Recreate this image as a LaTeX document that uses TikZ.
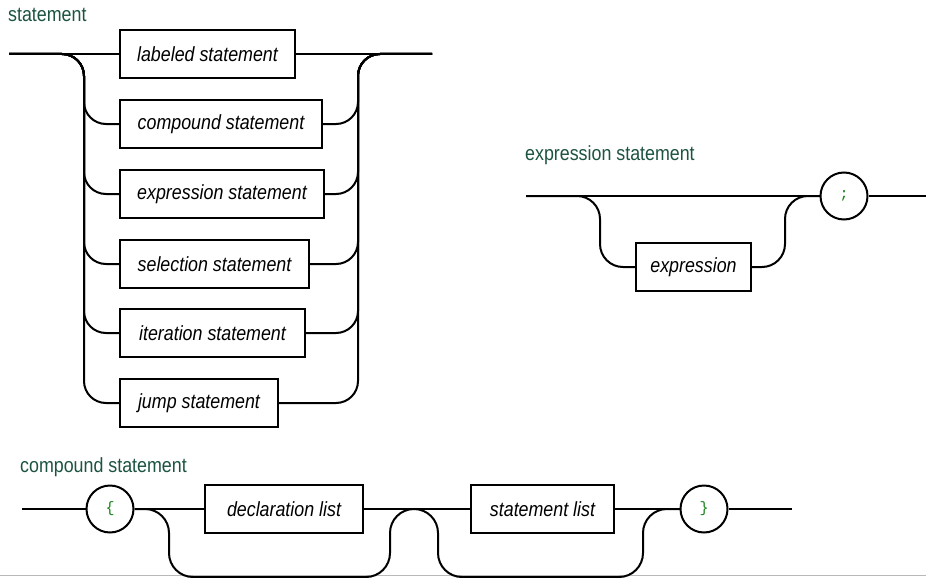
\documentclass[tikz,border=0pt]{standalone}
\usepackage{fontspec}
\setmainfont{Liberation Sans}[FakeStretch=0.87]
\newfontfamily\termfont{Liberation Mono}
\definecolor{titlegreen}{RGB}{28,84,64}
\definecolor{termgreen}{RGB}{20,130,20}
\tikzset{
  rail/.style={line width=2pt, line join=round},
  ntbox/.style={draw, line width=2pt, rectangle, minimum height=48pt, anchor=west, inner sep=0pt,
    font=\fontsize{20.5}{24}\selectfont\itshape},
  term/.style={draw, line width=2pt, circle, minimum size=47pt, inner sep=0pt,
    font=\termfont\fontsize{15}{16}\selectfont, text=termgreen},
  title/.style={anchor=base west, inner sep=0pt, text=titlegreen, font=\fontsize{20.5}{22}\selectfont}
}
\begin{document}
\begin{tikzpicture}[x=1pt, y=-1pt]
\useasboundingbox (0,0) rectangle (926,578);
\fill[white] (0,0) rectangle (926,578);

% ---------- statement ----------
\node[title] (t1) at (8,22) {statement};
\node[ntbox, minimum width=175pt] (b1) at (119,54) {labeled statement};
\node[ntbox, minimum width=202pt] (b2) at (119,124) {compound statement};
\node[ntbox, minimum width=204pt] (b3) at (119,194) {expression statement};
\node[ntbox, minimum width=189pt] (b4) at (119,264) {selection statement};
\node[ntbox, minimum width=185pt] (b5) at (119,333) {iteration statement};
\node[ntbox, minimum width=158pt] (b6) at (119,403) {jump statement};
\coordinate (in1) at (9,54);
\coordinate (out1) at (432,54);
\coordinate (L1) at (84,54);
\coordinate (R1) at (358,54);
\draw[rail] (in1) -- (b1.west);
\draw[rail] (b1.east) -- (out1);
\foreach \k in {2,...,6}{
  \draw[rail, rounded corners=22pt] (in1) -- (L1) |- (b\k.west);
  \draw[rail, rounded corners=22pt] (b\k.east) -| (R1) -- (out1);
}

% ---------- expression statement ----------
\node[title] (t2) at (525,160) {expression statement};
\node[ntbox, minimum width=115pt] (ex) at (635,267) {expression};
\node[term] (semi) at (844,196) {;};
\coordinate (in2) at (526,196);
\coordinate (out2) at (930,196);
\coordinate (L2) at (600,196);
\coordinate (R2) at (785,196);
\draw[rail] (in2) -- (semi.west);
\draw[rail] (semi.east) -- (out2);
\draw[rail, rounded corners=23pt] (in2) -- (L2) |- (ex.west);
\draw[rail, rounded corners=23pt] (ex.east) -| (R2) -- (semi.west);

% ---------- compound statement ----------
\node[title] (t3) at (20,472) {compound statement};
\node[term] (lb) at (110,509) {\{};
\node[ntbox, minimum width=158pt] (decl) at (204,509) {declaration list};
\node[ntbox, minimum width=143pt] (sl) at (470,509) {statement list};
\node[term] (rb) at (704,509) {\}};
\coordinate (in3) at (22,509);
\coordinate (out3) at (792,509);
\coordinate (d1) at (169,509);
\coordinate (d2) at (169,577);
\coordinate (d3) at (390,577);
\coordinate (d4) at (390,509);
\coordinate (hump) at (414,509);
\coordinate (e1) at (438,509);
\coordinate (e2) at (438,577);
\coordinate (e3) at (643,577);
\coordinate (e4) at (643,509);
\draw[gray!55, line width=1pt] (0,575) -- (926,575);
\draw[rail] (in3) -- (lb.west);
\draw[rail] (lb.east) -- (decl.west);
\draw[rail] (decl.east) -- (sl.west);
\draw[rail] (sl.east) -- (rb.west);
\draw[rail] (rb.east) -- (out3);
\draw[rail, rounded corners=24pt] (lb.east) -- (d1) -- (d2) -- (d3) -- (d4) -- (hump);
\draw[rail, rounded corners=24pt] (hump) -- (e1) -- (e2) -- (e3) -- (e4) -- (rb.west);
\end{tikzpicture}
\end{document}
